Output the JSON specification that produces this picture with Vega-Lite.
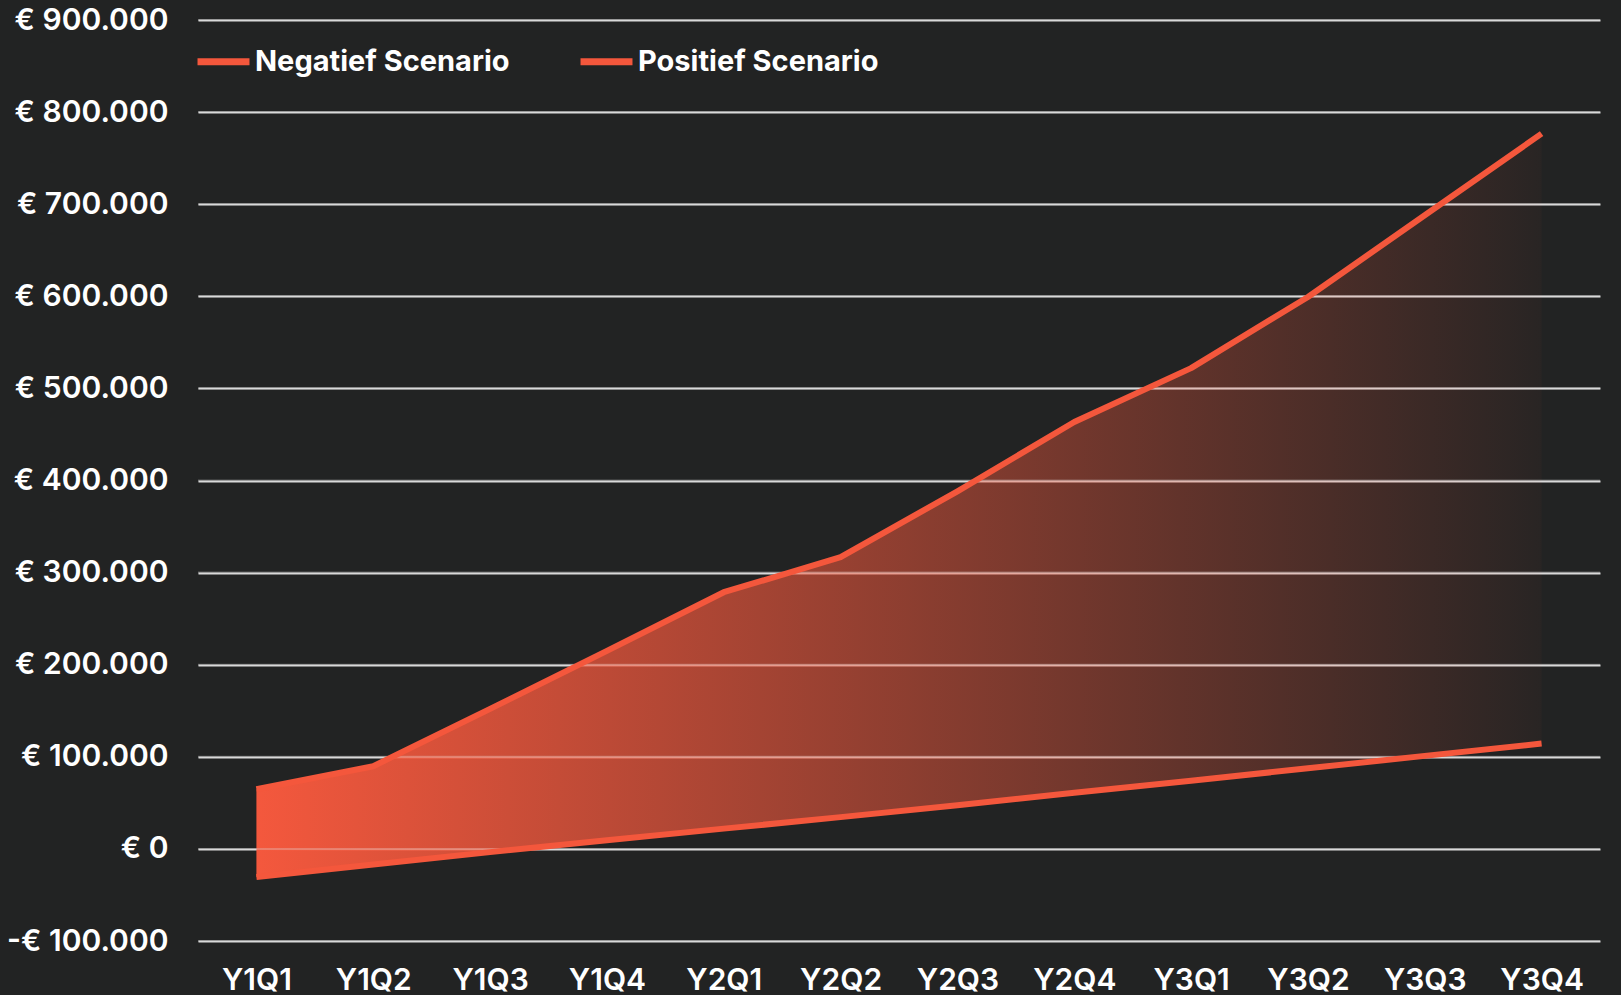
{
  "$schema": "https://vega.github.io/schema/vega-lite/v6.json",
  "autosize": "none",
  "width": 1402,
  "height": 921,
  "padding": {"left": 198, "top": 20, "right": 21, "bottom": 54},
  "background": "#222323",
  "config": {
    "view": {"stroke": null},
    "font": "Inter"
  },
  "datasets": {
    "scenario": [
      {"kwartaal": "Y1Q1", "Negatief Scenario": -30400, "Positief Scenario": 64800},
      {"kwartaal": "Y1Q2", "Negatief Scenario": -17000, "Positief Scenario": 89800},
      {"kwartaal": "Y1Q3", "Negatief Scenario": -3500, "Positief Scenario": 152000},
      {"kwartaal": "Y1Q4", "Negatief Scenario": 9500, "Positief Scenario": 215000},
      {"kwartaal": "Y2Q1", "Negatief Scenario": 22000, "Positief Scenario": 278700},
      {"kwartaal": "Y2Q2", "Negatief Scenario": 34500, "Positief Scenario": 316700},
      {"kwartaal": "Y2Q3", "Negatief Scenario": 47500, "Positief Scenario": 388300},
      {"kwartaal": "Y2Q4", "Negatief Scenario": 61000, "Positief Scenario": 463500},
      {"kwartaal": "Y3Q1", "Negatief Scenario": 74000, "Positief Scenario": 522000},
      {"kwartaal": "Y3Q2", "Negatief Scenario": 87500, "Positief Scenario": 599300},
      {"kwartaal": "Y3Q3", "Negatief Scenario": 101000, "Positief Scenario": 688000},
      {"kwartaal": "Y3Q4", "Negatief Scenario": 114400, "Positief Scenario": 776600}
    ],
    "raster": [
      {"v": -100000}, {"v": 0}, {"v": 100000}, {"v": 200000}, {"v": 300000},
      {"v": 400000}, {"v": 500000}, {"v": 600000}, {"v": 700000}, {"v": 800000}, {"v": 900000}
    ]
  },
  "layer": [
    {
      "data": {"name": "scenario"},
      "mark": {
        "type": "area",
        "fill": {
          "gradient": "linear",
          "x1": 0, "y1": 0, "x2": 1, "y2": 0,
          "stops": [
            {"offset": 0, "color": "rgba(244,88,61,1)"},
            {"offset": 1, "color": "rgba(244,88,61,0.03)"}
          ]
        }
      },
      "encoding": {
        "x": {
          "field": "kwartaal",
          "type": "ordinal",
          "sort": null,
          "scale": {"type": "point", "padding": 0.5},
          "axis": {
            "title": null,
            "domain": false,
            "ticks": false,
            "labelAngle": 0,
            "labelFont": "Inter",
            "labelFontWeight": 600,
            "labelFontSize": 30,
            "labelColor": "#FFFFFF",
            "labelPadding": 24
          }
        },
        "y": {
          "field": "Negatief Scenario",
          "type": "quantitative",
          "scale": {"domain": [-100000, 900000], "nice": false, "zero": false},
          "axis": {
            "title": null,
            "domain": false,
            "ticks": false,
            "values": [-100000, 0, 100000, 200000, 300000, 400000, 500000, 600000, 700000, 800000, 900000],
            "grid": true,
            "gridColor": "#D9D9D9",
            "gridWidth": 2,
            "labelFont": "Inter",
            "labelFontWeight": 600,
            "labelFontSize": 30,
            "labelColor": "#FFFFFF",
            "labelPadding": 30,
            "labelExpr": "(datum.value < 0 ? '-' : '') + '€ ' + replace(format(abs(datum.value), ',.0f'), regexp(',', 'g'), '.')"
          }
        },
        "y2": {"field": "Positief Scenario"}
      }
    },
    {
      "data": {"name": "raster"},
      "mark": {"type": "rule", "color": "#D9D9D9", "strokeWidth": 2, "opacity": 0.3},
      "encoding": {
        "y": {"field": "v", "type": "quantitative"}
      }
    },
    {
      "data": {"name": "scenario"},
      "transform": [
        {"fold": ["Negatief Scenario", "Positief Scenario"], "as": ["scenario", "waarde"]}
      ],
      "mark": {"type": "line", "strokeWidth": 6, "strokeCap": "butt", "strokeJoin": "round"},
      "encoding": {
        "x": {"field": "kwartaal", "type": "ordinal", "sort": null},
        "y": {"field": "waarde", "type": "quantitative"},
        "color": {
          "field": "scenario",
          "type": "nominal",
          "scale": {"domain": ["Negatief Scenario", "Positief Scenario"], "range": ["#F4573C", "#F4573C"]},
          "legend": {
            "title": null,
            "orient": "none",
            "legendX": -4,
            "legendY": 12,
            "direction": "horizontal",
            "padding": 0,
            "symbolType": "stroke",
            "symbolSize": 2700,
            "symbolStrokeWidth": 7,
            "labelFont": "Inter",
            "labelFontWeight": 700,
            "labelFontSize": 29,
            "labelColor": "#FFFFFF",
            "labelOffset": 2,
            "columnPadding": 56,
            "labelLimit": 400
          }
        }
      }
    }
  ]
}
